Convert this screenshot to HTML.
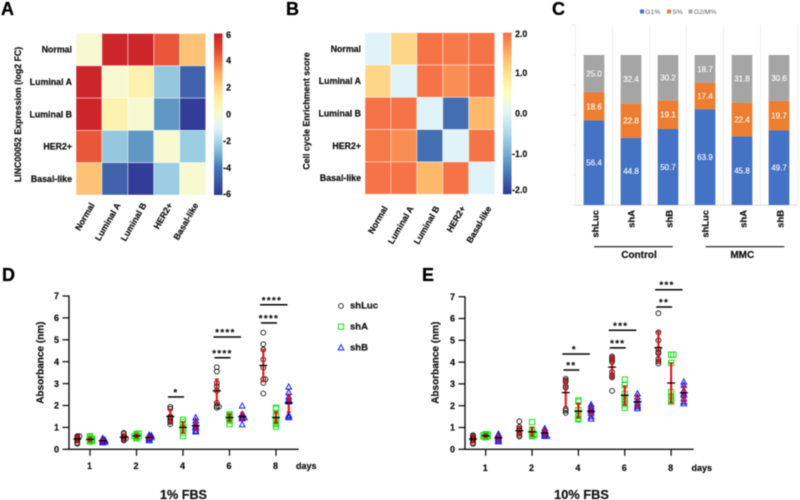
<!DOCTYPE html>
<html>
<head>
<meta charset="utf-8">
<title>LINC00052 figure</title>
<style>
html,body{margin:0;padding:0;background:#fff;width:800px;height:500px;overflow:hidden}
svg{display:block;filter:blur(.4px)}
text{font-family:"Liberation Sans",sans-serif;fill:#111}
.b{font-weight:bold;stroke:#111;stroke-width:.2}
.panel{font-size:18px;font-weight:bold;fill:#000;stroke:#000;stroke-width:.3}
.tick{font-size:8.8px;font-weight:bold;stroke:#111;stroke-width:.2}
.abs{font-size:10px;font-weight:bold;stroke:#111;stroke-width:.2}
.leg{font-size:9.5px;font-weight:bold;stroke:#111;stroke-width:.2}
.cleg{font-size:6.7px;fill:#595959}
</style>
</head>
<body>
<svg id="figure" xmlns="http://www.w3.org/2000/svg" width="800" height="500" viewBox="0 0 800 500">
  <rect width="800" height="500" fill="#fff"/>
  <defs id="defs"></defs>
  <text class="panel" x="1" y="15">A</text>
  <text class="panel" x="286" y="15">B</text>
  <text class="panel" x="552" y="15">C</text>
  <text class="panel" x="2" y="281">D</text>
  <text class="panel" x="422" y="281">E</text>

  <g id="heat-a"></g>
  <g id="heat-b"></g>
  <text class="tick" transform="translate(21,114.5) rotate(-90)" text-anchor="middle">LINC00052 Expression (log2 FC)</text>
  <text class="tick" transform="translate(309.5,111) rotate(-90)" text-anchor="middle">Cell cycle Enrichment score</text>

  <g id="stack"></g>
  <g>
    <rect x="640" y="9.5" width="4" height="4" fill="#4472c4"/>
    <text class="cleg" x="645.3" y="14">G1%</text>
    <rect x="667" y="9.5" width="4" height="4" fill="#ed7d31"/>
    <text class="cleg" x="672.3" y="14">S%</text>
    <rect x="688.5" y="9.5" width="4" height="4" fill="#a5a5a5"/>
    <text class="cleg" x="694" y="14">G2/M%</text>
  </g>
  <line x1="594" x2="672.7" y1="246.7" y2="246.7" stroke="#111" stroke-width="1.2"/>
  <line x1="705.7" x2="784.3" y1="246.7" y2="246.7" stroke="#111" stroke-width="1.2"/>
  <text x="639" y="258" font-size="10" class="b" text-anchor="middle">Control</text>
  <text x="742.3" y="258" font-size="10" class="b" text-anchor="middle">MMC</text>

  <g id="plot-d"></g>
  <g id="plot-e"></g>
  <text class="abs" transform="translate(43.5,362.7) rotate(-90)" text-anchor="middle">Absorbance (nm)</text>
  <text class="abs" transform="translate(438.5,362.7) rotate(-90)" text-anchor="middle">Absorbance (nm)</text>
  <text x="296" y="469" font-size="9" class="b">days</text>
  <text x="691.5" y="471" font-size="9" class="b">days</text>
  <text x="183.5" y="499" font-size="12.6" class="b" text-anchor="middle">1% FBS</text>
  <text x="581.5" y="499" font-size="12.8" class="b" text-anchor="middle">10% FBS</text>

  <g id="legend-d">
    <text class="leg" x="350" y="308.5">shLuc</text>
    <text class="leg" x="350" y="329.5">shA</text>
    <text class="leg" x="350" y="350.5">shB</text>
  </g>
</svg>
<script>
/* ---------- heatmap data ---------- */
const heatLabels = ["Normal", "Luminal A", "Luminal B", "HER2+", "Basal-like"];
const heatValuesA = [
  [0, 5.8, 5.8, 4.5, 2.5],
  [5.8, 0, 0.8, -2.4, -4.6],
  [5.8, 0.8, 0, -3.4, -5.8],
  [4.5, -2.4, -3.4, 0, -2.3],
  [2.5, -4.6, -5.8, -2.3, 0]
];
const heatValuesB = [
  [0, 1.1, 1.95, 1.9, 1.95],
  [1.1, 0, 1.95, 1.75, 1.95],
  [1.95, 1.95, 0, -1.55, 1.4],
  [1.9, 1.75, -1.55, 0, 1.95],
  [1.95, 1.95, 1.4, 1.95, 0]
];
const colorTicksA = ["6", "4", "2", "0", "-2", "-4", "-6"];
const colorTicksB = ["2.0", "1.0", "0.0", "-1.0", "-2.0"];

/* ---------- stacked bar data ---------- */
const stackGroups = ["shLuc", "shA", "shB", "shLuc", "shA", "shB"];
const g1Values = [56.4, 44.8, 50.7, 63.9, 45.8, 49.7];
const sValues = [18.6, 22.8, 19.1, 17.4, 22.4, 19.7];
const g2mValues = [25.0, 32.4, 30.2, 18.7, 31.8, 30.6];

/* ---------- scatter data ---------- */
const days = ["1", "2", "4", "6", "8"];
const absorbanceTicks = [0, 1, 2, 3, 4, 5, 6, 7];

const dShLuc = [
  [0.25, 0.3, 0.4, 0.45, 0.5, 0.55, 0.6, 0.6],
  [0.4, 0.45, 0.5, 0.5, 0.55, 0.6, 0.7, 0.75],
  [1.94, 1.85, 1.5, 1.45, 1.4, 1.3, 1.25, 1.15],
  [3.75, 3.55, 3.03, 2.88, 2.67, 2.12, 1.97, 1.9, 1.95],
  [5.33, 4.8, 4.55, 4.1, 3.73, 3.2, 3.2, 3.03, 2.55]
];
const dShLucMean = [0.47, 0.55, 1.5, 2.67, 3.83];
const dShLucLow = [0.3, 0.42, 1.22, 2.1, 3.1];
const dShLucHigh = [0.62, 0.7, 1.78, 3.2, 4.55];
const dShA = [
  [0.35, 0.38, 0.4, 0.42, 0.45, 0.48, 0.5, 0.55, 0.6],
  [0.5, 0.55, 0.58, 0.6, 0.6, 0.65, 0.7, 0.72],
  [1.35, 1.25, 1.15, 1.0, 0.95, 0.85, 0.75, 0.6],
  [1.6, 1.55, 1.5, 1.45, 1.4, 1.35, 1.3, 1.15],
  [1.9, 1.85, 1.55, 1.5, 1.36, 1.2, 1.15, 1.03]
];
const dShAMean = [0.45, 0.61, 1.0, 1.45, 1.45];
const dShALow = [0.36, 0.53, 0.75, 1.3, 1.2];
const dShAHigh = [0.54, 0.68, 1.25, 1.6, 1.7];
const dShB = [
  [0.3, 0.33, 0.35, 0.38, 0.4, 0.42, 0.45, 0.5],
  [0.4, 0.45, 0.5, 0.55, 0.55, 0.6, 0.62, 0.65],
  [1.45, 1.3, 1.15, 1.05, 1.0, 0.95, 0.85, 0.8],
  [1.98, 1.6, 1.55, 1.5, 1.45, 1.45, 1.4, 1.13],
  [2.85, 2.6, 2.4, 2.27, 2.17, 1.56, 1.5, 1.45]
];
const dShBMean = [0.39, 0.54, 1.08, 1.5, 2.12];
const dShBLow = [0.32, 0.46, 0.9, 1.35, 1.7];
const dShBHigh = [0.46, 0.62, 1.28, 1.68, 2.47];

const eShLuc = [
  [0.65, 0.6, 0.55, 0.5, 0.45, 0.4, 0.3, 0.25],
  [1.28, 1.03, 0.95, 0.88, 0.73, 0.65, 0.58],
  [3.24, 3.16, 3.1, 2.9, 2.83, 1.83, 1.77, 1.67],
  [4.26, 4.15, 4.08, 4.0, 3.55, 3.4, 3.3, 2.68],
  [6.24, 5.37, 5.0, 4.6, 4.46, 4.4, 4.15, 4.03, 3.93]
];
const eShLucMean = [0.47, 0.85, 2.6, 3.77, 4.66];
const eShLucLow = [0.3, 0.65, 1.95, 3.25, 4.0];
const eShLucHigh = [0.62, 1.05, 3.2, 4.3, 5.4];
const eShA = [
  [0.7, 0.68, 0.65, 0.65, 0.6, 0.6, 0.58, 0.55],
  [1.25, 0.9, 0.8, 0.73, 0.7, 0.65, 0.65, 0.6],
  [2.25, 2.18, 1.8, 1.65, 1.52, 1.42, 1.37],
  [3.2, 2.94, 2.55, 2.33, 2.25, 2.18, 2.07, 1.9],
  [4.34, 4.34, 3.96, 2.63, 2.43, 2.33, 2.25, 2.18]
];
const eShAMean = [0.62, 0.8, 1.75, 2.48, 3.04];
const eShALow = [0.55, 0.62, 1.45, 2.03, 2.13];
const eShAHigh = [0.7, 1.0, 2.1, 2.9, 3.96];
const eShB = [
  [0.7, 0.65, 0.6, 0.55, 0.5, 0.45, 0.4, 0.35],
  [0.95, 0.85, 0.8, 0.75, 0.7, 0.65, 0.6, 0.6],
  [2.05, 1.95, 1.85, 1.8, 1.75, 1.65, 1.5, 1.4],
  [2.55, 2.4, 2.25, 2.13, 2.02, 1.95, 1.87],
  [3.09, 2.94, 2.7, 2.56, 2.48, 2.33, 2.18, 2.1]
];
const eShBMean = [0.53, 0.75, 1.75, 2.18, 2.59];
const eShBLow = [0.4, 0.62, 1.55, 1.95, 2.18];
const eShBHigh = [0.66, 0.9, 1.95, 2.45, 2.9];

/* significance: day index, stars, level on the absorbance axis, spans all three groups or not */
const dSigDay = [2, 3, 3, 4, 4];
const dSigStars = ["*", "****", "****", "****", "****"];
const dSigLevel = [2.39, 4.18, 5.13, 5.77, 6.6];
const dSigSpansAll = [false, false, true, false, true];
const eSigDay = [2, 2, 3, 3, 4, 4];
const eSigStars = ["**", "*", "***", "***", "**", "***"];
const eSigLevel = [3.64, 4.37, 4.65, 5.46, 6.53, 7.32];
const eSigSpansAll = [false, true, false, true, false, true];

/* ---------- helpers ---------- */
const NS = "http://www.w3.org/2000/svg";
function el(tag, attrs, parent) {
  const n = document.createElementNS(NS, tag);
  for (const k in attrs) n.setAttribute(k, attrs[k]);
  parent.appendChild(n);
  return n;
}
function lerpColor(stops, t) {
  const p = Math.max(0, Math.min(1, t)) * (stops.length - 1);
  const i = Math.min(Math.floor(p), stops.length - 2);
  const f = p - i;
  const parse = h => [1, 3, 5].map(s => parseInt(h.substr(s, 2), 16));
  const a = parse(stops[i]), b = parse(stops[i + 1]);
  return "rgb(" + a.map((v, j) => Math.round(v + (b[j] - v) * f)).join(",") + ")";
}

/* ---------- heatmaps ---------- */
const rampA = ["#313695", "#3d55a5", "#4575b4", "#74add1", "#abd9e9", "#e0f3f8", "#f7fad0", "#fff0a8", "#fed58a", "#fdae61", "#f46d43", "#de3f2e", "#c8202a"];
const rampB = ["#313695", "#4575b4", "#74add1", "#abd9e9", "#e0f3f8", "#ffffbf", "#fee090", "#fdae61", "#f46d43"];

function drawHeatmap(rootId, prefix, matrix, maxAbs, ramp, box, cb, ticks, labelOffset, tickRight, lowClamp) {
  const root = document.getElementById(rootId);
  const n = matrix.length;
  const cw = box.w / n, ch = box.h / n;
  matrix.forEach((row, r) => {
    const rowY = box.y + r * ch;
    row.forEach((v, c) => {
      const cell = el("rect", {
        x: box.x + c * cw, y: rowY, width: cw, height: ch,
        fill: lerpColor(ramp, (v + maxAbs) / (2 * maxAbs)),
        stroke: "#fff", "stroke-opacity": 0.55, "stroke-width": 0.8
      }, root);
      
      
    });
    const yl = el("text", {
      x: box.x - 4, y: rowY + ch / 2 + 3, "text-anchor": "end", "class": "tick"
    }, root);
    yl.textContent = heatLabels[r];
    
    
  });
  heatLabels.forEach((lab, c) => {
    const cx = box.x + (c + 0.5) * cw;
    const xl = el("text", {
      transform: "translate(" + (cx + labelOffset.x) + "," + (box.y + box.h + labelOffset.y) + ") rotate(-60)",
      "text-anchor": "end", "class": "tick"
    }, root);
    xl.textContent = lab;
    
    
  });
  const defs = document.getElementById("defs");
  const grad = el("linearGradient", { id: prefix + "-grad", x1: 0, y1: 1, x2: 0, y2: 0 }, defs);
  ramp.forEach((c, i) => el("stop", { offset: i / (ramp.length - 1), "stop-color": c }, grad));
  const bar = el("rect", { x: cb.x, y: box.y, width: cb.w, height: box.h, fill: "url(#" + prefix + "-grad)" }, root);
  
  
  ticks.forEach(t => {
    const v = parseFloat(t);
    let y = box.y + (maxAbs - v) / (2 * maxAbs) * box.h;
    y = Math.max(box.y + 1.5, Math.min(box.y + box.h - lowClamp, y));
    const tl = el("text", { x: tickRight, y: y + 3, "text-anchor": "end", "class": "tick" }, root);
    tl.textContent = t;
    
    
  });
}
drawHeatmap("heat-a", "heatmap-a", heatValuesA, 6, rampA,
  { x: 76, y: 33.5, w: 129.7, h: 161.5 }, { x: 214, w: 8.5 }, colorTicksA, { x: 6, y: 10 }, 231, 1);
drawHeatmap("heat-b", "heatmap-b", heatValuesB, 2, rampB,
  { x: 365, y: 32.7, w: 129.7, h: 161.5 }, { x: 503, w: 8.5 }, colorTicksB, { x: 10, y: 14 }, 527.3, 4);

/* ---------- stacked bars ---------- */
(function () {
  const root = document.getElementById("stack");
  const x0 = 594, step = 37, barW = 20.7, base = 205, perPct = 1.5;
  const bx = i => x0 + i * step;
  const by = pct => base - pct * perPct;
  for (let i = 0; i <= stackGroups.length; i++) {
    const g = el("line", { x1: bx(i) - step / 2, x2: bx(i) - step / 2, y1: 25, y2: base, stroke: "#ececec", "stroke-width": 0.8 }, root);
    
    
  }
  [0, 20, 40, 60, 80, 100, 120].forEach(p => {
    const t = el("line", { x1: bx(0) - step / 2 - 3, x2: bx(0) - step / 2, y1: by(p), y2: by(p), stroke: "#e4e4e4", "stroke-width": 0.8 }, root);
    
    
  });
  const ax = el("line", { x1: bx(0) - step / 2, x2: bx(stackGroups.length) - step / 2, y1: base, y2: base, stroke: "#d9d9d9", "stroke-width": 1 }, root);
  
  

  const labelOffsets = [1.3, 0, 1.3, 0, 1, 1];
  stackGroups.forEach((g, i) => {
    let cum = 0;
    [[g1Values[i], "#4472c4", "g1"], [sValues[i], "#ed7d31", "s"], [g2mValues[i], "#a5a5a5", "g2m"]].forEach(seg => {
      const r = el("rect", { x: bx(i) - barW / 2, y: by(cum + seg[0]), width: barW, height: seg[0] * perPct, fill: seg[1] }, root);
      
      
      const t = el("text", { x: bx(i), y: by(cum + seg[0] / 2) + 2.8, "text-anchor": "middle", "font-size": 8, style: "fill:#fff;stroke:#fff;stroke-width:.12" }, root);
      t.textContent = seg[0].toFixed(1);
      
      
      cum += seg[0];
    });
    const xl = el("text", {
      transform: "translate(" + (bx(i) + labelOffsets[i] + 3.4) + ",210) rotate(-90)",
      "text-anchor": "end", "font-size": 9.4, "class": "b"
    }, root);
    xl.textContent = g;
    
    
  });
})();

/* ---------- scatter plots ---------- */
function symbol(parent, kind, x, y) {
  let s;
  if (kind === "shLuc") {
    s = el("circle", { cx: x, cy: y, r: 2.4, fill: "none", stroke: "#111", "stroke-width": 0.9 }, parent);
  } else if (kind === "shA") {
    s = el("rect", { x: x - 2.6, y: y - 2.6, width: 5.2, height: 5.2, fill: "none", stroke: "#14e014", "stroke-width": 1 }, parent);
  } else {
    s = el("path", { d: "M" + x + " " + (y - 3) + "L" + (x + 2.8) + " " + (y + 2.2) + "L" + (x - 2.8) + " " + (y + 2.2) + "Z", fill: "none", stroke: "#1818f0", "stroke-width": 1 }, parent);
  }
  
  
  return s;
}
function swarm(pixelYs) {
  const placed = [];
  return pixelYs.map(y => {
    const candidates = [0, 2.2, -2.2, 3.6, -3.6];
    let off = 0;
    for (const c of candidates) {
      if (!placed.some(p => Math.abs(p.y - y) < 0.8 && Math.abs(p.x - c) < 2)) { off = c; break; }
      off = c;
    }
    placed.push({ x: off, y });
    return off;
  });
}
function drawScatter(cfg) {
  const root = document.getElementById(cfg.id);
  const yScale = v => cfg.y0 - v * cfg.yUnit;
  const xScale = i => cfg.x0 + i * cfg.step;
  const yAxis = el("line", { x1: cfg.axisX, x2: cfg.axisX, y1: yScale(7) - 0.5, y2: yScale(0) + 0.5, stroke: "#111", "stroke-width": 1.4 }, root);
  
  
  const xAxis = el("line", { x1: cfg.axisX, x2: cfg.axisEnd, y1: yScale(0), y2: yScale(0), stroke: "#111", "stroke-width": 1.4 }, root);
  
  
  absorbanceTicks.forEach(v => {
    const t = el("line", { x1: cfg.axisX - 6.5, x2: cfg.axisX, y1: yScale(v), y2: yScale(v), stroke: "#111", "stroke-width": 1.3 }, root);
    
    
    const l = el("text", { x: cfg.axisX - 10, y: yScale(v) + 3.2, "text-anchor": "end", "font-size": 9, "class": "b" }, root);
    l.textContent = v;
    
    
  });
  days.forEach((d, i) => {
    const t = el("line", { x1: xScale(i), x2: xScale(i), y1: yScale(0), y2: yScale(0) + 6.5, stroke: "#111", "stroke-width": 1.3 }, root);
    
    
    const l = el("text", { x: xScale(i) - 0.5, y: cfg.xLabelY, "text-anchor": "middle", "font-size": 9, "class": "b" }, root);
    l.textContent = d;
    
    
  });
  cfg.series.forEach((s, si) => {
    const offset = (si - 1) * 12.7;
    days.forEach((d, i) => {
      const cx = xScale(i) + offset;
      const ys = s.points[i].map(yScale);
      const jitter = swarm(ys);
      ys.forEach((y, k) => symbol(root, s.kind, cx + jitter[k], y));
      const err = el("line", { x1: cx, x2: cx, y1: yScale(s.high[i]), y2: yScale(s.low[i]), stroke: "#f00a0a", "stroke-width": 2 }, root);
      
      
      [s.high[i], s.low[i]].forEach(v => {
        const cap = el("line", { x1: cx - 2, x2: cx + 2, y1: yScale(v), y2: yScale(v), stroke: "#e00a0a", "stroke-width": 1.4 }, root);
        
        
      });
      const m = el("line", { x1: cx - 4, x2: cx + 4, y1: yScale(s.mean[i]), y2: yScale(s.mean[i]), stroke: "#000", "stroke-width": 1.3 }, root);
      
      
    });
  });
  cfg.sigDay.forEach((dayIdx, i) => {
    const cx = xScale(dayIdx), wide = cfg.sigWide[i], y = yScale(cfg.sigLevel[i]);
    const line = el("line", { x1: cx + (wide ? -16 : -15), x2: cx + (wide ? 11.5 : 1), y1: y, y2: y, stroke: "#000", "stroke-width": 1.5 }, root);
    
    
    const star = el("text", { x: cx + (wide ? -4 : -7), y: y - 1.5, "text-anchor": "middle", "font-size": 9.5, "letter-spacing": 1.4, "class": "b" }, root);
    star.textContent = cfg.sigStars[i];
    
    
  });
}
drawScatter({
  id: "plot-d", x0: 90, step: 46.5, y0: 449.3, yUnit: 21.9, axisX: 69, axisEnd: 298.7, xLabelY: 469,
  series: [
    { kind: "shLuc", points: dShLuc, mean: dShLucMean, low: dShLucLow, high: dShLucHigh },
    { kind: "shA", points: dShA, mean: dShAMean, low: dShALow, high: dShAHigh },
    { kind: "shB", points: dShB, mean: dShBMean, low: dShBLow, high: dShBHigh }
  ],
  sigDay: dSigDay, sigStars: dSigStars, sigLevel: dSigLevel, sigWide: dSigSpansAll
});
drawScatter({
  id: "plot-e", x0: 485.7, step: 46.35, y0: 449.3, yUnit: 21.8, axisX: 465, axisEnd: 693.7, xLabelY: 471,
  series: [
    { kind: "shLuc", points: eShLuc, mean: eShLucMean, low: eShLucLow, high: eShLucHigh },
    { kind: "shA", points: eShA, mean: eShAMean, low: eShALow, high: eShAHigh },
    { kind: "shB", points: eShB, mean: eShBMean, low: eShBLow, high: eShBHigh }
  ],
  sigDay: eSigDay, sigStars: eSigStars, sigLevel: eSigLevel, sigWide: eSigSpansAll
});
(function () {
  const leg = document.getElementById("legend-d");
  symbol(leg, "shLuc", 341, 306);
  symbol(leg, "shA", 341, 326.7);
  symbol(leg, "shB", 341, 347.7);
})();
</script>
</body>
</html>
